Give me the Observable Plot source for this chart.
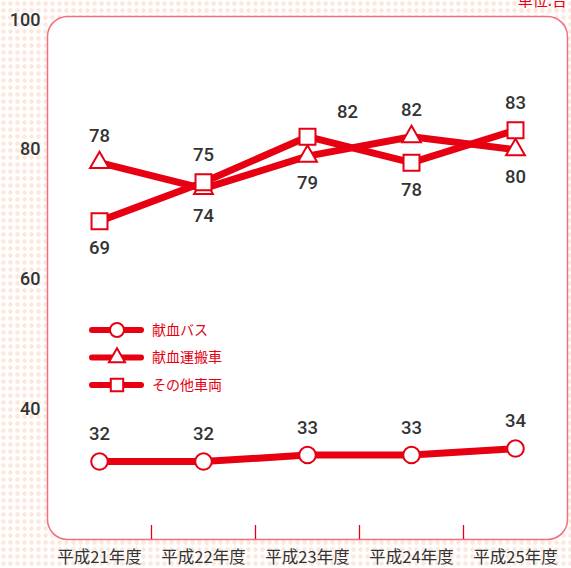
<!DOCTYPE html>
<html><head><meta charset="utf-8">
<script src="https://cdn.jsdelivr.net/npm/d3@7"></script>
<script src="https://cdn.jsdelivr.net/npm/@observablehq/plot@0.6"></script>
<style>
html,body{margin:0;padding:0;}
body{width:571px;height:568px;overflow:hidden;position:relative;background-color:#fff;
background-image:radial-gradient(circle at 3.5px 3.5px,#fde8de 2px,rgba(255,255,255,0) 2.5px);
background-size:7px 7px;}
#chart{position:absolute;left:0;top:0;}
#unit{position:absolute;right:4px;top:-8px;font:15px "Noto Sans CJK JP",sans-serif;color:#e60012;line-height:15px;}
#legend{position:absolute;left:87px;top:318px;}
</style></head><body>
<div id="chart"></div>
<div id="unit">単位:台</div>
<div id="legend"></div>
<script>
// ---- data ----
const years = ["平成21年度", "平成22年度", "平成23年度", "平成24年度", "平成25年度"];
const seriesNames = ["献血バス", "献血運搬車", "その他車両"];
const busValues = [32, 32, 33, 33, 34];
const transportValues = [78, 74, 79, 82, 80];
const otherValues = [69, 75, 82, 78, 83];
const yTicks = [40, 60, 80, 100];
// where each value label sits relative to its point
const busLabelSide = ["above", "above", "above", "above", "above"];
const transportLabelSide = ["above", "below", "below", "above", "below"];
const otherLabelSide = ["below", "above", "aboveRight", "below", "above"];

const RED = "#e60012";
const NUM_FONT = '"Roboto","Liberation Sans",sans-serif';
const JP_FONT = '"Noto Sans CJK JP",sans-serif';

const seriesValues = [busValues, transportValues, otherValues];
const seriesSides = [busLabelSide, transportLabelSide, otherLabelSide];
const rows = seriesNames.flatMap((s, k) =>
  seriesValues[k].map((v, i) => ({series: s, i, value: v, side: seriesSides[k][i]})));
const symbols = ["circle", "triangle", "square"];
const symbolR = [8.3, 7, 9];

const W = 571, H = 568, mT = 16, mB = 29, mL = 47, mR = 4;
const boundaries = d3.range(years.length - 1).map(i => i + 0.5);

const labelStyle = {x: "i", y: "value", text: d => String(d.value), fontSize: 18.5,
  fill: "#333", fontFamily: NUM_FONT, fontWeight: 500};

const chart = Plot.plot({
  width: W, height: H,
  marginTop: mT, marginBottom: mB, marginLeft: mL, marginRight: mR,
  style: {background: "transparent", overflow: "visible"},
  x: {domain: [-0.5, years.length - 0.5], axis: null},
  y: {domain: [20, 100.5], axis: null},
  marks: [
    Plot.frame({fill: "white", stroke: "#f0707e", strokeWidth: 1.5, rx: 20}),
    Plot.tickX(boundaries, {x: d => d, stroke: RED, strokeWidth: 1.3, insetTop: H - mT - mB - 14}),
    Plot.axisY({ticks: yTicks, tickSize: 0, tickPadding: 7, fontSize: 18, fontFamily: NUM_FONT,
      fontWeight: 500, fill: "#333", label: null}),
    Plot.axisX({ticks: d3.range(years.length), tickFormat: i => years[i], tickSize: 0, tickPadding: 12,
      fontSize: 16.5, fontFamily: JP_FONT, fill: "#333", label: null}),
    Plot.line(rows, {x: "i", y: "value", z: "series", stroke: RED, strokeWidth: 7, strokeLinejoin: "round"}),
    ...seriesNames.map((s, k) => Plot.dot(rows.filter(d => d.series === s), {
      x: "i", y: "value", symbol: () => symbols[k], r: symbolR[k], fill: "white", stroke: RED, strokeWidth: 2
    })),
    Plot.text(rows.filter(d => d.side === "above"), {...labelStyle, dy: -27}),
    Plot.text(rows.filter(d => d.side === "below"), {...labelStyle, dy: 27}),
    Plot.text(rows.filter(d => d.side === "aboveRight"), {...labelStyle, dy: -25, dx: 40})
  ]
});
document.getElementById("chart").appendChild(chart);

// ---- legend ----
const lg = d3.select("#legend").append("svg").attr("width", 160).attr("height", 82)
  .style("overflow", "visible");
seriesNames.forEach((s, k) => {
  const g = lg.append("g").attr("transform", `translate(0,${12 + k * 27.5})`);
  g.append("line").attr("x1", 5).attr("x2", 54).attr("y1", 0).attr("y2", 0)
    .attr("stroke", RED).attr("stroke-width", 6).attr("stroke-linecap", "round");
  const sym = {circle: d3.symbolCircle, triangle: d3.symbolTriangle, square: d3.symbolSquare}[symbols[k]];
  const size = [Math.PI * 7 * 7, Math.PI * 6 * 6, Math.PI * 7 * 7][k];
  g.append("path").attr("d", d3.symbol(sym, size)()).attr("transform", "translate(30,0)")
    .attr("fill", "white").attr("stroke", RED).attr("stroke-width", 2);
  g.append("text").attr("x", 65).attr("y", 0).attr("dy", "0.35em").text(s)
    .attr("fill", RED).attr("font-size", 14).attr("font-family", JP_FONT);
});
</script>
</body></html>
